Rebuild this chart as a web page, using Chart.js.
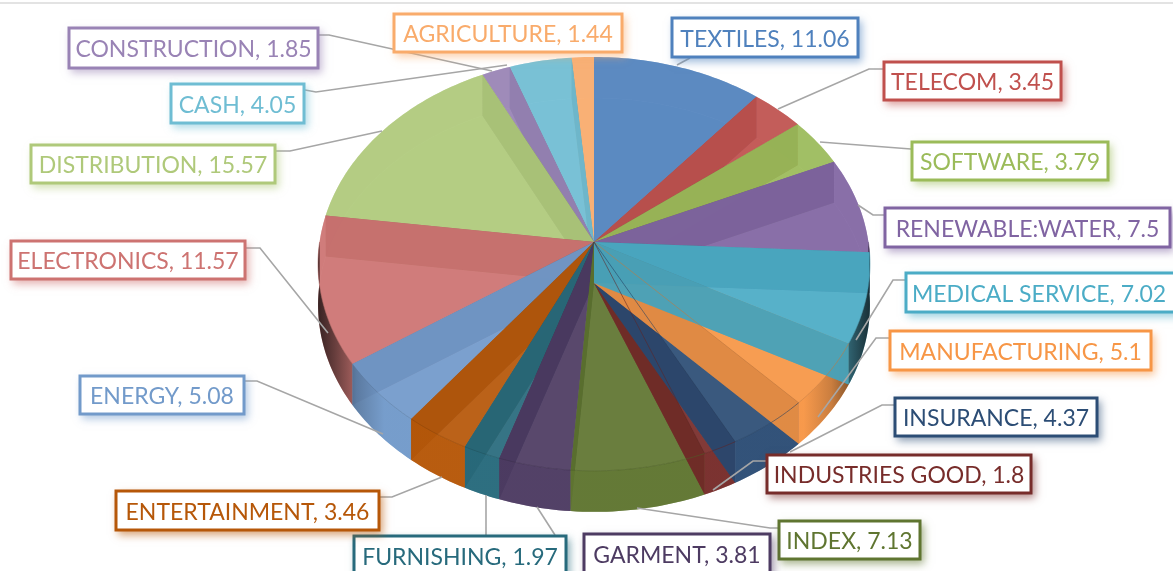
<!DOCTYPE html>
<html>
<head>
<meta charset="utf-8">
<style>
  html, body { margin: 0; padding: 0; background: #ffffff; overflow: hidden; }
  #topline { position: absolute; left: 0; top: 2px; width: 1173px; height: 2px; background: #e3e3e3; }
  #box { position: absolute; left: 0; top: 0; width: 1173px; height: 571px; }
</style>
<script src="https://cdn.jsdelivr.net/npm/chart.js@4"></script>
</head>
<body>
<div id="box"><canvas id="pie3d" width="1173" height="571"></canvas></div>
<div id="topline"></div>
<script>
const categories = ["TEXTILES", "TELECOM", "SOFTWARE", "RENEWABLE:WATER", "MEDICAL SERVICE", "MANUFACTURING",
  "INSURANCE", "INDUSTRIES GOOD", "INDEX", "GARMENT", "FURNISHING", "ENTERTAINMENT", "ENERGY", "ELECTRONICS",
  "DISTRIBUTION", "CONSTRUCTION", "CASH", "AGRICULTURE"];
const values = [11.06, 3.45, 3.79, 7.5, 7.02, 5.1, 4.37, 1.8, 7.13, 3.81, 1.97, 3.46, 5.08, 11.57, 15.57, 1.85, 4.05, 1.44];
const colors = ["#4F81BD", "#C0504D", "#9BBB59", "#8064A2", "#4BACC6", "#F79646", "#2C4D75", "#772C2A", "#5F7530",
  "#4D3B62", "#276A7C", "#B65708", "#729ACA", "#CD7371", "#AFC97A", "#9983B5", "#6FBDD3", "#F9AB6B"];

// label boxes: left, top, right, bottom
const labelBoxes = [[671, 17, 859, 58], [883, 61, 1062, 101], [911, 141, 1109, 181], [884, 207, 1171, 248],
  [905, 272, 1180, 313], [889, 330, 1152, 371], [894, 397, 1098, 437], [766, 454, 1032, 494], [778, 520, 921, 560],
  [583, 533, 771, 574], [353, 535, 567, 576], [115, 490, 380, 531], [79, 375, 245, 415], [10, 240, 246, 280],
  [30, 144, 276, 184], [68, 27, 319, 69], [170, 83, 305, 124], [393, 13, 623, 53]];
const leaders = [[[690, 58], [677, 65]], [[883, 69], [869, 69], [778, 109]], [[911, 149], [820, 142]],
  [[884, 215], [873, 215], [858, 205]], [[905, 280], [893, 280], [856, 340]], [[889, 338], [876, 338], [818, 417]],
  [[894, 405], [882, 405], [790, 452]], [[766, 461], [753, 461], [713, 490]], [[778, 528], [770, 528], [637, 508]],
  [[555, 535], [537, 507]], [[486, 535], [486, 495]], [[380, 497], [392, 497], [442, 477]],
  [[245, 381], [257, 381], [383, 434]], [[246, 248], [260, 248], [328, 333]], [[276, 151], [290, 151], [382, 131]],
  [[319, 35], [329, 35], [492, 71]], [[305, 90], [316, 92], [507, 65]], []];

// slices are painted in this order so the walls overlap like the original
const paintOrder = [0, 1, 2, 3, 17, 16, 15, 14, 13, 12, 11, 10, 9, 8, 7, 6, 5, 4];

// perspective of the disc
const view = { cx: 594, cy: 242, rx: 274.4, ry: 204.6, k: 0.106, depth: 41 };

function project(theta, dy) {
  const u = Math.sin(theta), v = -Math.cos(theta), w = 1 - view.k * v;
  return [view.cx + view.rx * u / w, view.cy + dy + view.ry * v / w];
}

function rgba(hex, alpha, dark) {
  const f = 1 - (dark || 0);
  const r = parseInt(hex.slice(1, 3), 16) * f;
  const g = parseInt(hex.slice(3, 5), 16) * f;
  const b = parseInt(hex.slice(5, 7), 16) * f;
  return "rgba(" + Math.round(r) + "," + Math.round(g) + "," + Math.round(b) + "," + alpha + ")";
}

function rimPoints(a, b, dy) {
  const pts = [];
  const n = Math.max(2, Math.ceil((b - a) / 0.02));
  for (let i = 0; i <= n; i++) pts.push(project(a + (b - a) * i / n, dy));
  return pts;
}

function tracePath(ctx, pts) {
  ctx.beginPath();
  pts.forEach((p, i) => (i === 0 ? ctx.moveTo(p[0], p[1]) : ctx.lineTo(p[0], p[1])));
  ctx.closePath();
}

function face(ctx, a, b, dy) {
  tracePath(ctx, [[view.cx, view.cy + dy]].concat(rimPoints(a, b, dy)));
}

function radialWall(ctx, theta) {
  const p = project(theta, 0), q = project(theta, view.depth);
  tracePath(ctx, [[view.cx, view.cy], p, q, [view.cx, view.cy + view.depth]]);
}

function outerWall(ctx, a, b) {
  tracePath(ctx, rimPoints(a, b, 0).concat(rimPoints(a, b, view.depth).reverse()));
}

function drawSlice(ctx, a, b, color, index) {
  // right-front slices show their end wall on top of the next slice
  const wallOnTop = index >= 4 && index <= 8;

  face(ctx, a, b, view.depth);
  ctx.fillStyle = rgba(color, 0.6);
  ctx.fill();

  // back part of the rim, seen through the top
  const pi = Math.PI;
  [[Math.max(a, 0), Math.min(b, pi / 2)], [Math.max(a, 1.5 * pi), Math.min(b, 2 * pi)]].forEach((r) => {
    if (r[1] > r[0]) {
      outerWall(ctx, r[0], r[1]);
      ctx.fillStyle = rgba(color, 0.58, 0.03);
      ctx.fill();
    }
  });

  radialWall(ctx, a);
  ctx.fillStyle = rgba(color, 0.85, 0.18);
  ctx.fill();
  if (!wallOnTop) {
    radialWall(ctx, b);
    ctx.fillStyle = rgba(color, 0.85, 0.18);
    ctx.fill();
  }

  face(ctx, a, b, 0);
  ctx.fillStyle = rgba(color, 0.82);
  ctx.fill();

  if (wallOnTop) {
    radialWall(ctx, b);
    ctx.fillStyle = rgba(color, 0.88, 0.06);
    ctx.fill();
  }

  // front part of the rim goes dark towards the sides
  const fa = Math.max(a, pi / 2), fb = Math.min(b, 1.5 * pi);
  if (fb > fa) {
    const grad = ctx.createLinearGradient(view.cx - 276, 0, view.cx + 276, 0);
    [[0, 0.8], [0.03, 0.55], [0.07, 0.2], [0.12, 0], [0.88, 0], [0.93, 0.2], [0.97, 0.55], [1, 0.8]].forEach((s) => {
      grad.addColorStop(s[0], rgba(color, 0.92, s[1]));
    });
    outerWall(ctx, fa, fb);
    ctx.fillStyle = grad;
    ctx.fill();
  }
}

function drawEdges(ctx, a, b, color, index) {
  ctx.lineWidth = 1;
  ctx.strokeStyle = rgba(color, 0.55, 0.2);
  const fa = Math.max(a, Math.PI / 2), fb = Math.min(b, 1.5 * Math.PI);
  if (fb > fa) {
    const pts = rimPoints(fa, fb, 0);
    ctx.beginPath();
    pts.forEach((p, i) => (i === 0 ? ctx.moveTo(p[0], p[1]) : ctx.lineTo(p[0], p[1])));
    ctx.stroke();
  }
  if (index >= 5 && index <= 7) {
    const p = project(b, 0);
    ctx.beginPath();
    ctx.moveTo(view.cx, view.cy);
    ctx.lineTo(p[0], p[1]);
    ctx.stroke();
  }
}

const pie3dPlugin = {
  id: "pie3d",
  beforeDatasetsDraw(chart) {
    const ctx = chart.ctx;
    const arcs = chart.getDatasetMeta(0).data;
    const angle = (arc, key) => arc[key] + Math.PI / 2;
    ctx.save();
    paintOrder.forEach((i) => {
      drawSlice(ctx, angle(arcs[i], "startAngle"), angle(arcs[i], "endAngle"), colors[i], i);
    });
    arcs.forEach((arc, i) => {
      drawEdges(ctx, angle(arc, "startAngle"), angle(arc, "endAngle"), colors[i], i);
    });
    ctx.restore();
    return false;
  },
  afterDraw(chart) {
    const ctx = chart.ctx;
    ctx.save();
    ctx.strokeStyle = "#A6A6A6";
    ctx.lineWidth = 1.6;
    leaders.forEach((line) => {
      if (!line.length) return;
      ctx.beginPath();
      line.forEach((p, i) => (i === 0 ? ctx.moveTo(p[0], p[1]) : ctx.lineTo(p[0], p[1])));
      ctx.stroke();
    });
    categories.forEach((name, i) => {
      const box = labelBoxes[i];
      const w = box[2] - box[0], h = box[3] - box[1];
      ctx.save();
      ctx.shadowColor = rgba(colors[i], 0.55);
      ctx.shadowBlur = 8;
      ctx.shadowOffsetX = 3;
      ctx.shadowOffsetY = 4;
      ctx.fillStyle = "#ffffff";
      ctx.fillRect(box[0], box[1], w, h);
      ctx.restore();
      ctx.strokeStyle = colors[i];
      ctx.lineWidth = 3;
      ctx.strokeRect(box[0] + 1, box[1] + 1, w - 2, h - 2);
      ctx.fillStyle = colors[i];
      ctx.font = "23px Lato";
      ctx.textAlign = "center";
      ctx.textBaseline = "middle";
      const textX = box[2] > 1173 ? box[0] + 134 : box[0] + w / 2;
      ctx.fillText(name + ", " + values[i], textX, box[1] + h / 2 + 2);
    });
    ctx.restore();
  }
};

new Chart(document.getElementById("pie3d"), {
  type: "pie",
  data: {
    labels: categories,
    datasets: [{ data: values, backgroundColor: colors, borderWidth: 0 }]
  },
  options: {
    responsive: false,
    animation: false,
    plugins: { legend: { display: false }, tooltip: { enabled: false } }
  },
  plugins: [pie3dPlugin]
});
</script>
</body>
</html>
